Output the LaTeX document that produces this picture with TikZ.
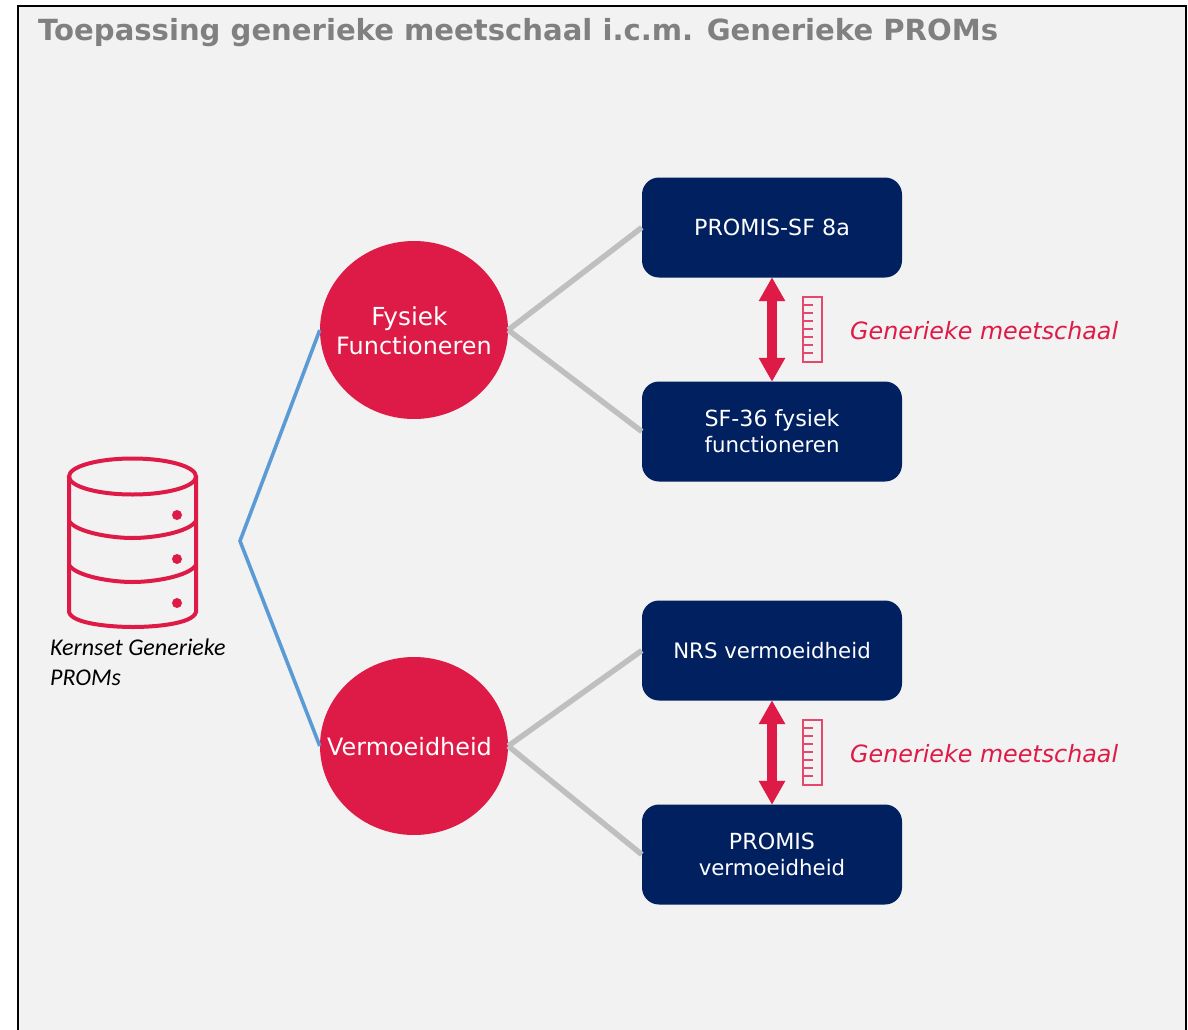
\documentclass[tikz,border=0pt]{standalone}
\usepackage{fontspec}
\setmainfont{DejaVu Sans}
\newfontfamily\calib{Carlito}
\usetikzlibrary{arrows.meta,shapes.geometric}
\definecolor{bgc}{HTML}{F2F2F2}
\definecolor{navy}{HTML}{002060}
\definecolor{crim}{HTML}{DE1A47}
\definecolor{bluel}{HTML}{5B9BD5}
\definecolor{grayl}{HTML}{BFBFBF}
\newcommand{\fa}{\fontsize{22.2}{26}\selectfont}
\newcommand{\fb}{\fontsize{21.3}{26}\selectfont}
\tikzset{
 boxn/.style={fill=navy,rounded corners=17pt,minimum width=260pt,minimum height=100pt,text=white,align=center,font=\fa,inner sep=0pt},
 circ/.style={ellipse,fill=crim,minimum width=188pt,minimum height=178pt,inner sep=0pt},
 circt/.style={text=white,align=center,font=\fontsize{23.9}{29}\selectfont,inner sep=0pt},
 glink/.style={draw=grayl,line width=5.5pt},
 blink/.style={draw=bluel,line width=3.6pt},
 dbl/.style={draw=crim,line width=10pt,{Triangle[length=24pt,width=25pt]}-{Triangle[length=24pt,width=25pt]},shorten >=-.5pt,shorten <=-.5pt},
 rul/.style={draw=crim!80!white,line width=1.4pt},
 dbs/.style={draw=crim,line width=4pt},
 gen/.style={text=crim,font=\fontsize{23.8}{28}\selectfont\itshape,anchor=west,inner sep=0pt},
}
\begin{document}
\begin{tikzpicture}[x=1pt,y=-1pt]
\useasboundingbox (0,0) rectangle (1188,1030);
\fill[white] (0,0) rectangle (1188,1030);
\fill[bgc,draw=black,line width=2.4pt] (18,1034) -- (18,6) -- (1186,6) -- (1186,1034);
\node[anchor=west,inner sep=0pt,text=gray] (title) at (38,33) {\fontsize{29.1}{34}\selectfont\bfseries Toepassing generieke meetschaal i.c.m. Generieke PROMs};
\node[circ] (ff) at (414,330) {};
\node[circ] (vm) at (414,746) {};
\node[circt] (fft) at (414,331) {{\fontsize{24.8}{29}\selectfont Fysiek}\hspace*{9pt}\mbox{}\\Functioneren};
\node[circt] (vmt) at (409.5,747) {Vermoeidheid};
\node[boxn] (b1) at (772,227.5) {\raisebox{-.5pt}{PROMIS-SF 8a}};
\node[boxn] (b2) at (772,431.5) {SF-36 fysiek\\\fb functioneren};
\node[boxn,font=\fb] (b3) at (772,650.5) {\raisebox{-.5pt}{NRS vermoeidheid}};
\node[boxn] (b4) at (772,854.5) {PROMIS\\\fb vermoeidheid};
\coordinate (hub) at (240,541);
\draw[blink] (ff.west) -- (hub) -- (vm.west);
\draw[glink] (ff.east) -- (b1.west);
\draw[glink] (ff.east) -- (b2.west);
\draw[glink] (vm.east) -- (b3.west);
\draw[glink] (vm.east) -- (b4.west);
\draw[dbl] (b1.south) -- (b2.north);
\draw[dbl] (b3.south) -- (b4.north);
\foreach \yy in {297,720}{
 \draw[rul] (803,\yy) rectangle (822,\yy+65);
 \foreach \k in {1,...,7} \draw[rul] (803,\yy+\k*8) -- (813,\yy+\k*8);
}
\node[gen] (g1) at (850,331) {Generieke meetschaal};
\node[gen] (g2) at (850,754) {Generieke meetschaal};
% database
\draw[dbs] (69,476) -- (69,612) .. controls (72,624) and (112,627) .. (133,627) .. controls (154,627) and (193,624) .. (196,612) -- (196,476);
\draw[dbs] (132.5,476.5) ellipse [x radius=63.5pt,y radius=18pt];
\draw[dbs] (69,521) .. controls (76,532) and (110,538) .. (132.5,538) .. controls (155,538) and (189,532) .. (196,521);
\draw[dbs] (69,565) .. controls (76,576) and (110,582) .. (132.5,582) .. controls (155,582) and (189,576) .. (196,565);
\foreach \yy in {515,559,603} \fill[crim] (177,\yy) circle (5pt);
\node[anchor=west,inner sep=0pt,align=left,font=\calib\itshape\fontsize{24}{30}\selectfont] (kern) at (50,662) {Kernset Generieke\\PROMs};
\end{tikzpicture}
\end{document}
